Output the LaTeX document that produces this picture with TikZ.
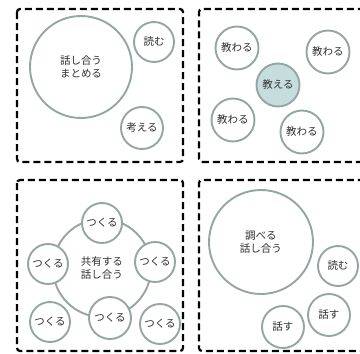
\documentclass[tikz,border=0pt]{standalone}
\usepackage{fontspec}
\newfontfamily\jp{Noto Sans CJK JP}
\definecolor{ringc}{HTML}{93A6A4}
\definecolor{fillc}{HTML}{C6DDDD}
\definecolor{txt}{HTML}{2E2E2E}
\begin{document}
\begin{tikzpicture}[x=1pt,y=-1pt,
  panel/.style={draw=black, line width=2.2pt, dash pattern=on 7pt off 4pt, rounded corners=3pt},
  bub/.style={circle, draw=ringc, line width=1.9pt, fill=white, inner sep=0pt, text=txt, align=center,
    font=\jp\fontsize{10.5}{13}\selectfont},
  big/.style={bub, minimum size=#1},
  sm/.style={bub, minimum size=40pt},
  hot/.style={sm, fill=fillc}
]
\useasboundingbox (0,0) rectangle (360,354);
\fill[white] (0,0) rectangle (360,354);
\begin{scope}
\clip (0,0) rectangle (360,354);
% panels
\draw[panel] (17,9) rectangle (183,162);
\draw[panel] (17,180) rectangle (183,351);
\draw[panel] (420,9) -- (199,9) -- (199,162) -- (420,162);
\draw[panel] (420,180) -- (199,180) -- (199,351) -- (420,351);

% top-left
\node[big=102pt] (a1) at (81,67) {話し合う\\まとめる};
\node[sm] (a2) at (154,42) {読む};
\node[sm, minimum size=42pt] (a3) at (142,128) {考える};

% top-right
\node[sm, minimum size=43pt] (b1) at (237,48) {教わる};
\node[sm, minimum size=43pt] (b2) at (328,52) {教わる};
\node[hot, minimum size=43pt] (b3) at (278,85) {教える};
\node[sm, minimum size=43pt] (b4) at (233,120) {教わる};
\node[sm, minimum size=43pt] (b5) at (302,132) {教わる};

% bottom-left
\node[big=98pt] (c0) at (102,268) {共有する\\話し合う};
\node[sm] (c1) at (102,223) {つくる};
\node[sm] (c2) at (48,264) {つくる};
\node[sm] (c3) at (155,262) {つくる};
\node[sm, minimum size=42pt] (c4) at (110,318) {つくる};
\node[sm] (c5) at (50,322) {つくる};
\node[sm] (c6) at (160,324) {つくる};

% bottom-right
\node[big=104pt] (d1) at (261,242) {調べる\\話し合う};
\node[sm] (d2) at (338,266) {読む};
\node[sm, minimum size=42pt] (d3) at (329,315) {話す};
\node[sm, minimum size=42pt] (d4) at (283,327) {話す};
\end{scope}
\end{tikzpicture}
\end{document}
